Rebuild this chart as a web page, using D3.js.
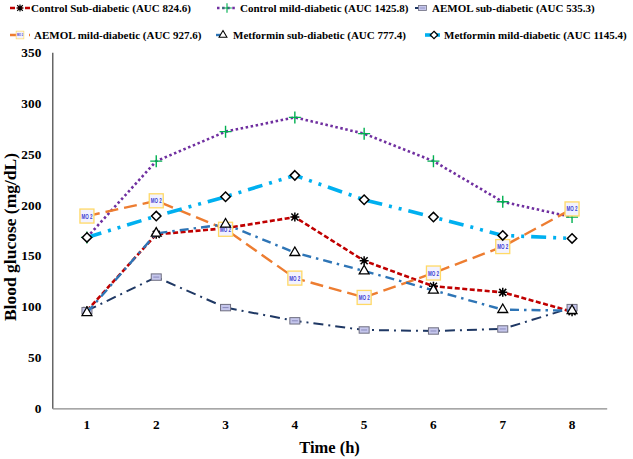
<!DOCTYPE html>
<html><head><meta charset="utf-8">
<script src="https://cdn.jsdelivr.net/npm/d3@7/dist/d3.min.js"></script>
<style>
body{margin:0;background:#fff}svg{display:block}
text{font-family:"Liberation Serif","Times New Roman","DejaVu Serif",serif;font-weight:bold;fill:#000}
text.mo2{font-family:"Liberation Sans Narrow","Liberation Sans",sans-serif;font-weight:bold;fill:#3a3ad0}
</style>
</head><body>
<svg id="chart" width="633" height="459"></svg>
<script>
const categories = ["1","2","3","4","5","6","7","8"];
const yTicks = [0,50,100,150,200,250,300,350];
const seriesNames = [
  "Control Sub-diabetic (AUC 824.6)",
  "Control mild-diabetic (AUC 1425.8)",
  "AEMOL sub-diabetic (AUC 535.3)",
  "AEMOL mild-diabetic (AUC 927.6)",
  "Metformin sub-diabetic (AUC 777.4)",
  "Metformin mild-diabetic (AUC 1145.4)"
];
const controlSub    = [96, 171, 177, 188, 145, 120, 114, 95];
const controlMild   = [168, 243, 272, 286, 270, 243, 203, 188];
const aemolSub      = [96, 129, 99, 86, 77, 76, 78, 99];
const aemolMild     = [189, 204, 176, 128, 109, 133, 159, 196];
const metforminSub  = [94, 172, 181, 153, 135, 116, 97, 96];
const metforminMild = [168, 189, 208, 229, 205, 188, 170, 167];

const svg = d3.select("#chart");
const x = d3.scaleBand().domain(categories).range([52.3, 606.7]).padding(0);
const y = d3.scaleLinear().domain([0, 350]).range([408.3, 52.3]);
const cx = d => x(d) + x.bandwidth()/2;

const styles = [
  {color:"#C00000", dash:"5,2.5", width:2.6, marker:"asterisk"},
  {color:"#7030A0", dash:"2.5,2.6", width:2.6, marker:"plus"},
  {color:"#1F3864", dash:"10,5,2,5", width:2, marker:"smallsq"},
  {color:"#ED7D31", dash:"13,6", width:2.4, marker:"mo2"},
  {color:"#2E75B6", dash:"9,5,2.5,5", width:2.4, marker:"triangle"},
  {color:"#00B0F0", dash:"15,7,3,7,3,7", width:3.6, marker:"diamond"}
];
const data = [controlSub, controlMild, aemolSub, aemolMild, metforminSub, metforminMild];

// axes
const yAxis = svg.append("g").attr("transform", `translate(${x.range()[0]},0)`)
  .call(d3.axisLeft(y).tickValues(yTicks).tickSize(0).tickPadding(11));
yAxis.select(".domain").attr("stroke", "#404040").attr("stroke-width", 1.2);
const xAxis = svg.append("g").attr("transform", `translate(0,${y(0)})`)
  .call(d3.axisBottom(x).tickSize(0).tickPadding(11));
xAxis.select(".domain").attr("stroke", "#8a8a8a").attr("stroke-width", 1.2);
svg.selectAll(".tick text").attr("font-size", 13.3);

svg.append("text").attr("x", (x.range()[0]+x.range()[1])/2).attr("y", 453)
  .attr("text-anchor", "middle").attr("font-size", 16.5).text("Time (h)");
svg.append("text").attr("transform", "translate(15.5,237) rotate(-90)")
  .attr("text-anchor", "middle").attr("font-size", 17.5).text("Blood glucose (mg/dL)");

function drawMarker(g, type, px, py, scale) {
  const s = scale || 1;
  const m = g.append("g").attr("transform", `translate(${px},${py}) scale(${s})`);
  if (type === "asterisk") {
    m.append("path").attr("d", "M-3.5,-3.5L3.5,3.5M-3.5,3.5L3.5,-3.5M0,-4.5L0,4.5M-4.5,0L4.5,0")
      .attr("stroke", "#000").attr("stroke-width", 1.5).attr("fill", "none");
  } else if (type === "plus") {
    m.append("path").attr("d", "M-6,0L6,0M0,-6L0,6")
      .attr("stroke", "#00B050").attr("stroke-width", 1.4).attr("fill", "none");
  } else if (type === "smallsq") {
    m.append("rect").attr("x", -5).attr("y", -3.2).attr("width", 10).attr("height", 6.4)
      .attr("fill", "#C5C6EC").attr("stroke", "#6f6f80").attr("stroke-width", 1);
    m.append("line").attr("x1", -3).attr("x2", 3).attr("y1", 0).attr("y2", 0)
      .attr("stroke", "#8888bb").attr("stroke-width", 1);
  } else if (type === "mo2") {
    m.append("rect").attr("x", -7).attr("y", -7).attr("width", 14).attr("height", 14)
      .attr("fill", "#F2F2FF").attr("stroke", "#FFD966").attr("stroke-width", 1.3);
    m.append("text").attr("class", "mo2").attr("x", 0).attr("y", 2.5).attr("text-anchor", "middle")
      .attr("font-size", 7).attr("textLength", 11).attr("lengthAdjust", "spacingAndGlyphs").text("MO 2");
  } else if (type === "triangle") {
    m.append("path").attr("d", d3.symbol(d3.symbolTriangle, 42)())
      .attr("fill", "#fff").attr("stroke", "#000").attr("stroke-width", 1.3);
  } else if (type === "diamond") {
    m.append("path").attr("d", "M0,-4.7L4.7,0L0,4.7L-4.7,0Z")
      .attr("fill", "#fff").attr("stroke", "#000").attr("stroke-width", 1.5);
  }
}

const line = d3.line().x((d,i) => cx(categories[i])).y(d => y(d));
data.forEach((vals, k) => {
  const st = styles[k];
  const g = svg.append("g");
  g.append("path").datum(vals).attr("d", line).attr("fill", "none")
    .attr("stroke", st.color).attr("stroke-width", st.width)
    .attr("stroke-dasharray", st.dash);
  vals.forEach((v, i) => drawMarker(g, st.marker, cx(categories[i]), y(v)));
});

// legend
const legendPos = [
  {x1:10, x2:30, tx:31, y:8},
  {x1:217, x2:237, tx:240, y:8},
  {x1:415, x2:430, tx:432, y:8},
  {x1:10, x2:30, tx:34, y:35},
  {x1:216, x2:230, tx:233, y:35},
  {x1:425, x2:443, tx:444, y:35}
];
seriesNames.forEach((name, k) => {
  const p = legendPos[k], st = styles[k];
  const g = svg.append("g");
  g.append("line").attr("x1", p.x1).attr("x2", p.x2).attr("y1", p.y).attr("y2", p.y)
    .attr("stroke", st.color).attr("stroke-width", st.width)
    .attr("stroke-dasharray", st.dash);
  drawMarker(g, st.marker, (p.x1+p.x2)/2, p.y, st.marker === "mo2" ? 0.55 : 0.8);
  g.append("text").attr("x", p.tx).attr("y", p.y + 4)
    .attr("font-size", 11).text(name);
});
</script>
</body></html>
